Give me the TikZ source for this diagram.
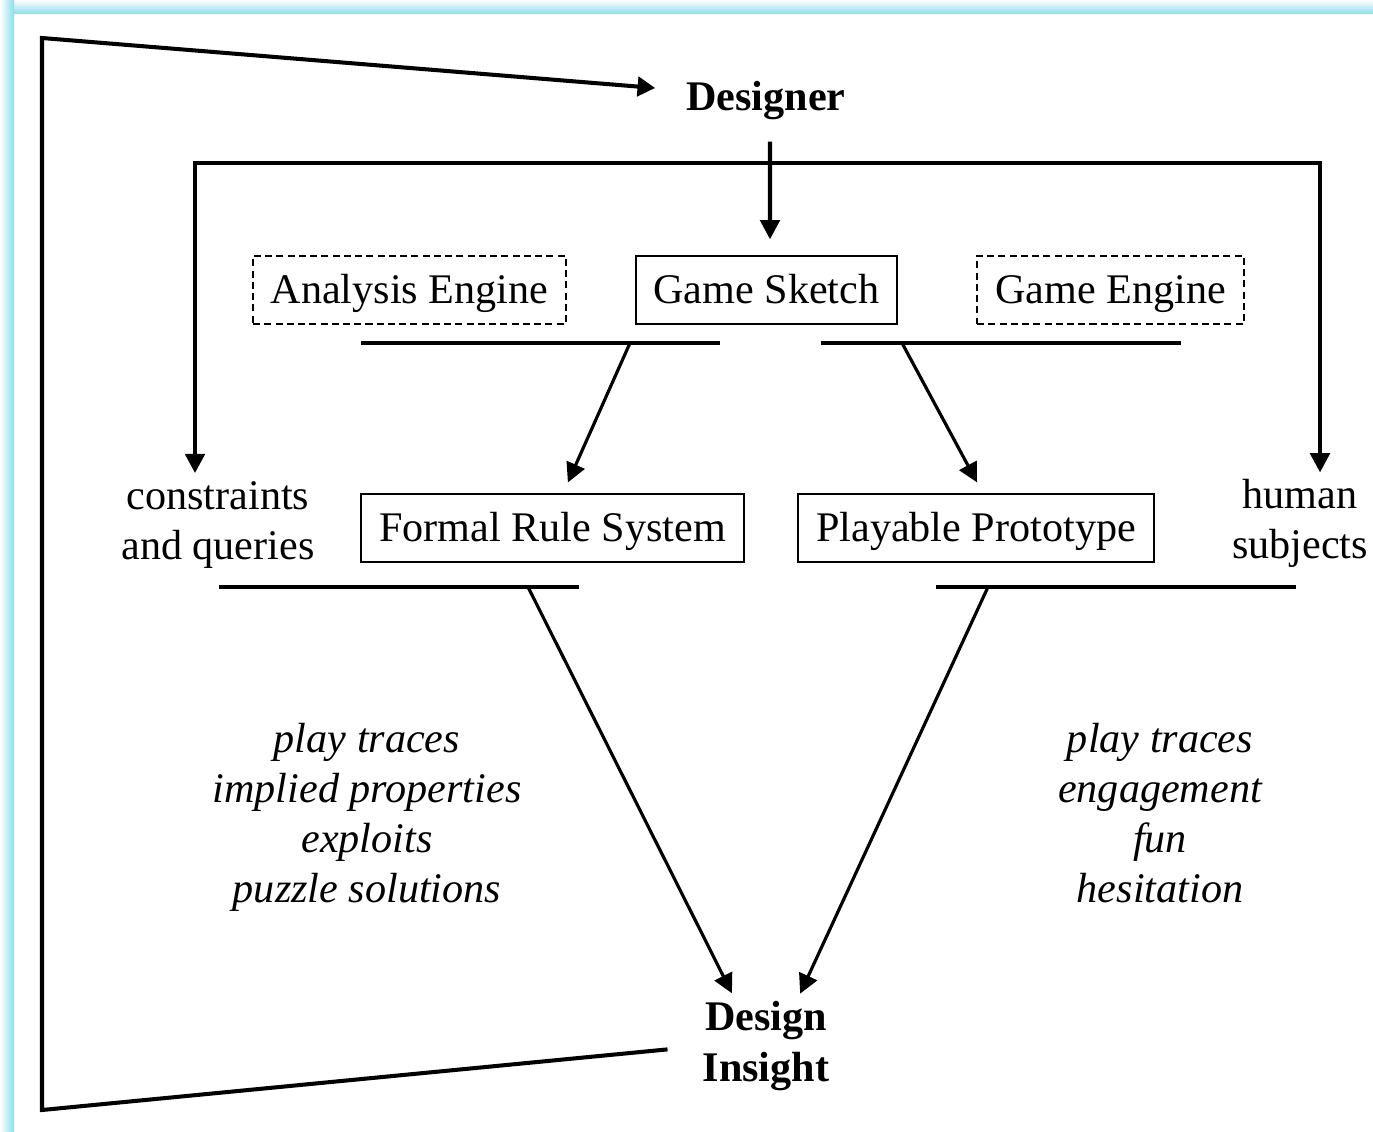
\documentclass[tikz,border=0pt]{standalone}
\usepackage{fontspec}
\setmainfont{Liberation Serif}
\usetikzlibrary{arrows.meta}
\definecolor{glow}{RGB}{135,222,237}

\begin{document}
\begin{tikzpicture}[x=0.02cm, y=-0.02cm,
    box/.style = {draw, line width=0.7pt, inner sep=0pt, minimum height=1.36cm,
                  text height=16.5pt, text depth=1.7pt, font=\fontsize{24}{28.4}\selectfont},
    dbox/.style = {box, dash pattern=on 4pt off 2.4pt},
    lbl/.style = {align=center, inner sep=0pt, font=\fontsize{24}{28.5}\selectfont},
    head/.style = {align=center, inner sep=0pt, font=\fontsize{24}{29.5}\selectfont\bfseries},
    note/.style = {align=center, inner sep=0pt, font=\fontsize{24}{28.5}\selectfont\itshape},
    bar/.style = {line width=2.8pt},
    arr/.style = {line width=1.8pt, -{Triangle[length=11pt,width=11pt]}},
    feed/.style = {line width=2.3pt, -{Triangle[length=10pt,width=11pt]}}]
        % page and glow frame
        \fill[white] (0,0) rectangle (1373,1132);
        \shade[top color=white, bottom color=glow] (0,0) rectangle (1373,14);
        \shade[left color=white, right color=glow] (0,0) rectangle (14,1132);
        \useasboundingbox (0,0) rectangle (1373,1132);

        \node[head] (des) at (766,101) {Designer};
        \node[dbox, minimum width=6.26cm] (ae) at (409.5,290) {Analysis Engine};
        \node[box, minimum width=5.22cm] (sk) at (766.5,290) {Game Sketch};
        \node[dbox, minimum width=5.34cm] (ge) at (1110.5,290) {Game Engine};
        \node[box, minimum width=7.66cm] (frs) at (552.5,528) {Formal Rule System};
        \node[box, minimum width=7.12cm] (pp) at (976,528) {Playable Prototype};
        \node[lbl] (cq) at (218,525) {constraints\\and queries};
        \node[lbl] (hs) at (1300,523) {human\\subjects};
        \node[note] (ln) at (367,817) {play traces\\implied properties\\exploits\\puzzle solutions};
        \node[note] (rn) at (1160,813) {play traces\\engagement\\fun\\hesitation};
        \node[head] (di) at (766,1046) {Design\\Insight};

        \coordinate (tl) at (195,163);
        \coordinate (tr) at (1320,163);
        \coordinate (fork1) at (630,343);
        \coordinate (fork2) at (902,343);
        \coordinate (fork3) at (528,587);
        \coordinate (fork4) at (988,587);
        \coordinate (lt) at (42,38);
        \coordinate (lb) at (42,1110);

        % bars
        \draw[bar] (361,343) -- (720,343);
        \draw[bar] (821,343) -- (1181,343);
        \draw[bar] (219,587) -- (579,587);
        \draw[bar] (936,587) -- (1296,587);

        \draw[line width=2.5pt, {Triangle[length=11pt,width=11pt]}-{Triangle[length=11pt,width=11pt]},
              shorten <=0.16cm, shorten >=0.12cm]
              (tl |- cq.north) -- (tl) -- (tr) -- (tr |- hs.north);
        \draw[arr, line width=2.3pt, shorten <=0.42cm, shorten >=0.32cm]
              ([xshift=0.08cm]des.south) -- ([xshift=0.07cm]sk.north);
        \draw[arr, shorten >=0.24cm] (fork1) -- ([xshift=0.21cm]frs.north);
        \draw[arr, shorten >=0.25cm] (fork2) -- ([xshift=0.14cm]pp.north);
        \draw[arr, shorten >=0.16cm] (fork3) -- ([xshift=-0.61cm]di.north);
        \draw[arr, shorten >=0.15cm] (fork4) -- ([xshift=0.62cm]di.north);
        \draw[feed, shorten <=0.7cm, shorten >=0.62cm]
              (di.west) -- (lb) -- (lt) -- ([yshift=0.21cm]des.west);
\end{tikzpicture}
\end{document}
